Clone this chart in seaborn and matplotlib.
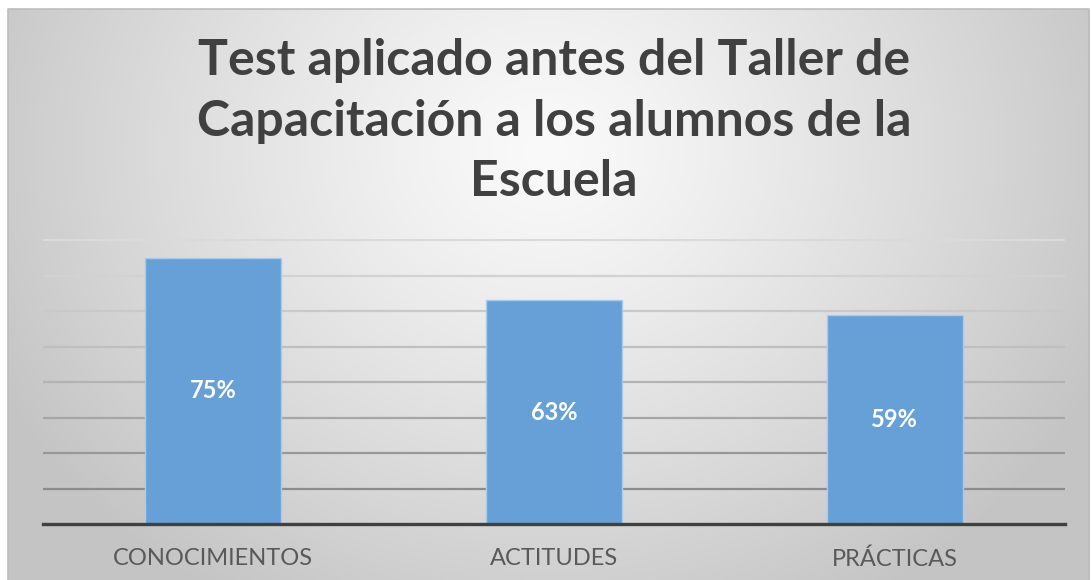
import numpy as np
import pandas as pd
import matplotlib
matplotlib.use("Agg")
import matplotlib.pyplot as plt
import seaborn as sns

# ---- data ----
categories = ["CONOCIMIENTOS", "ACTITUDES", "PRÁCTICAS"]
values = [75, 63, 59]
value_labels = ["75%", "63%", "59%"]
grid_ticks = [10, 20, 30, 40, 50, 60, 70, 80]
title = "Test aplicado antes del Taller de\nCapacitación a los alumnos de la\nEscuela"

sns.set_theme(style="white")
plt.rcParams["font.family"] = ["Lato", "DejaVu Sans"]

W, H = 1091, 580
fig = plt.figure(figsize=(W / 100, H / 100), dpi=100)
fig.patch.set_facecolor("white")

# ---- background radial gradient panel ----
bg = fig.add_axes([0, 0, 1, 1], zorder=-10)
yy, xx = np.mgrid[0:H, 0:W]
d = np.sqrt(((xx - 545) / 560.0) ** 2 + ((yy - 150) / 480.0) ** 2)
val = (250 - 48 * np.clip(d, 0, 1.1) ** 1.2) / 255.0
img = np.dstack([val, val, val])
mask = (xx < 8) | (yy < 9) | (xx > 1089)
img[mask] = 1.0
bg.imshow(img, extent=[0, W, H, 0], aspect="auto", interpolation="bilinear")
bg.plot([8, 8, 1089, 1089], [H, 9, 9, H], color="#bdbdbd", lw=1.2)
bg.set_xlim(0, W)
bg.set_ylim(H, 0)
bg.axis("off")

# ---- main axes ----
ax = fig.add_axes([43 / W, 56 / H, (1065 - 43) / W, 285 / H])
ax.set_facecolor("none")
df = pd.DataFrame({"cat": categories, "val": values})
sns.barplot(data=df, x="cat", y="val", ax=ax, width=0.4,
            color="#66a0d6", edgecolor="#a9cbeb", linewidth=1.0, saturation=1)
ax.set_ylim(0, 80.3)
ax.set_xlim(-0.5, 2.5)
ax.set_yticks(grid_ticks)
ax.set_yticklabels([])
ax.set_axisbelow(True)
ax.grid(axis="y", linewidth=1.6)
grid_colors = ["#8c8c8c", "#989898", "#a6a6a6", "#b3b3b3", "#bfbfbf", "#c9c9c9", "#d2d2d2", "#dadada"]
for gl, c in zip(ax.get_ygridlines(), grid_colors):
    gl.set_color(c)
ax.set_xlabel("")
ax.set_ylabel("")
for s in ["top", "right", "left"]:
    ax.spines[s].set_visible(False)
ax.spines["bottom"].set_color("#404040")
ax.spines["bottom"].set_linewidth(2.4)
ax.tick_params(axis="x", length=0, pad=17.5, labelsize=17, labelcolor="#595959")
ax.tick_params(axis="y", length=0)

ax.bar_label(ax.containers[0], labels=value_labels, label_type="center",
             color="white", fontsize=17, fontweight="bold", padding=0)
for t in ax.texts:
    t.set_y(t.get_position()[1])

fig.text(554 / W, 1 - 38 / H, title, ha="center", va="top",
         fontsize=36, fontweight="bold", color="#404040", linespacing=1.42)

fig.savefig("out.png", dpi=100)
